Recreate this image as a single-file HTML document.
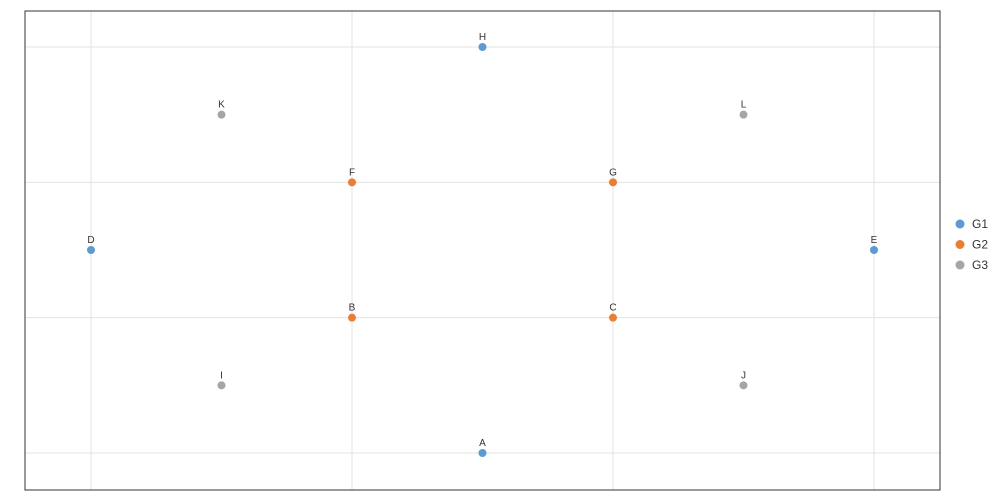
<!DOCTYPE html>
<html><head><meta charset="utf-8"><style>
body{margin:0;background:#fff;font-family:"Liberation Sans",sans-serif}
svg{display:block}
</style></head><body>
<svg width="1000" height="500">
<g id="grid"></g>
<rect x="25" y="11" width="915" height="479" fill="none" stroke="#333" stroke-width="1"/>
<g id="pts"></g>
<g id="legend"></g>
</svg>
<script>
const labels=["A","B","C","D","E","F","G","H","I","J","K","L"];
const xs=[1.5,1,2,0,3,1,2,1.5,0.5,2.5,0.5,2.5];
const ys=[0,1,1,1.5,1.5,2,2,3,0.5,0.5,2.5,2.5];
const groups=["G1","G2","G2","G1","G1","G2","G2","G1","G3","G3","G3","G3"];
const groupNames=["G1","G2","G3"];
const groupColors=["#5b9bd5","#ed7d31","#a5a5a5"];
const gridVals=[0,1,2,3];
const NS="http://www.w3.org/2000/svg";
const sx=v=>91+v*261, sy=v=>453-v*135.33;
const grid=document.getElementById('grid');
gridVals.forEach(v=>{
 let l=document.createElementNS(NS,'line');
 l.setAttribute('x1',sx(v));l.setAttribute('x2',sx(v));l.setAttribute('y1',11);l.setAttribute('y2',490);
 l.setAttribute('stroke','#e3e3e3');
 
 
 grid.appendChild(l);
 let h=document.createElementNS(NS,'line');
 h.setAttribute('x1',25);h.setAttribute('x2',940);h.setAttribute('y1',sy(v));h.setAttribute('y2',sy(v));
 h.setAttribute('stroke','#e3e3e3');
 
 
 grid.appendChild(h);
});
const pts=document.getElementById('pts');
labels.forEach((lab,i)=>{
 const c=groupColors[groupNames.indexOf(groups[i])];
 let ci=document.createElementNS(NS,'circle');
 ci.setAttribute('cx',sx(xs[i]));ci.setAttribute('cy',sy(ys[i]));ci.setAttribute('r',4);ci.setAttribute('fill',c);
 
 
 pts.appendChild(ci);
 let t=document.createElementNS(NS,'text');
 t.setAttribute('x',sx(xs[i]));t.setAttribute('y',sy(ys[i])-7);t.setAttribute('text-anchor','middle');
 t.setAttribute('font-size','10');t.setAttribute('fill','#333');t.textContent=lab;
 
 
 pts.appendChild(t);
});
const lg=document.getElementById('legend');
groupNames.forEach((g,i)=>{
 let ci=document.createElementNS(NS,'circle');
 ci.setAttribute('cx',960);ci.setAttribute('cy',224+i*20.5);ci.setAttribute('r',4.5);ci.setAttribute('fill',groupColors[i]);
 
 
 lg.appendChild(ci);
 let t=document.createElementNS(NS,'text');
 t.setAttribute('x',972);t.setAttribute('y',228+i*20.5);t.setAttribute('font-size','12');t.setAttribute('fill','#333');t.textContent=g;
 
 
 lg.appendChild(t);
});
</script>
</body></html>
